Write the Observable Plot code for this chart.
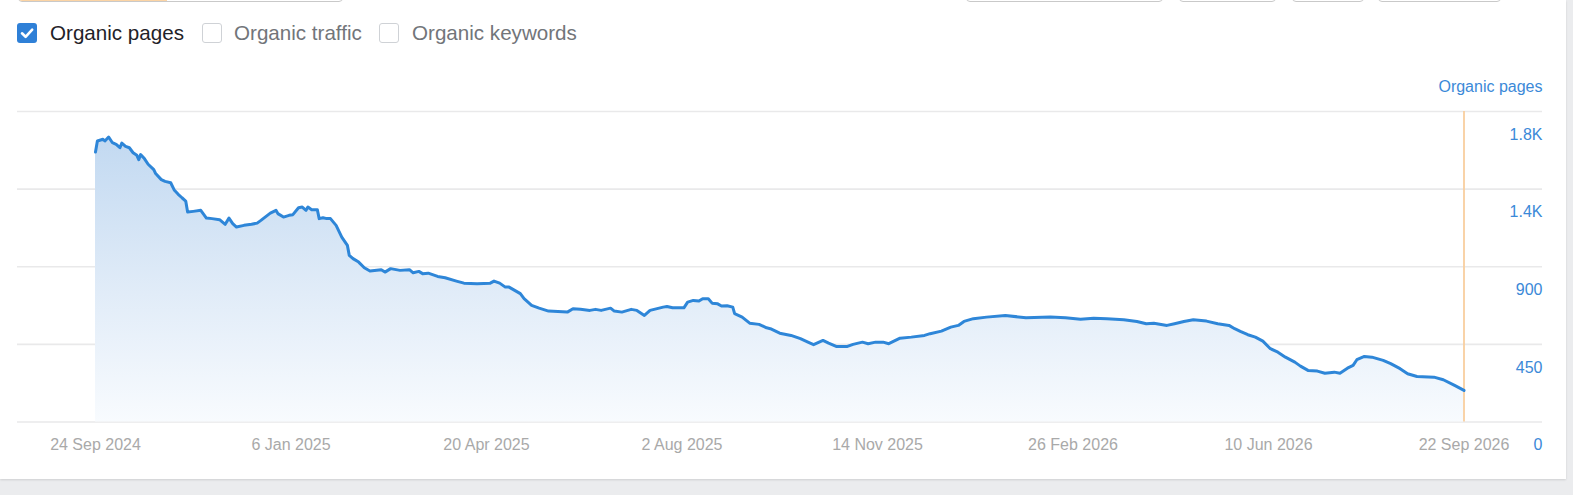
<!DOCTYPE html>
<html>
<head>
<meta charset="utf-8">
<script src="https://cdn.jsdelivr.net/npm/d3@7"></script>
<script src="https://cdn.jsdelivr.net/npm/@observablehq/plot@0.6"></script>
<style>
  html, body { margin: 0; padding: 0; background: #ebecee; width: 1573px; height: 495px; overflow: hidden; font-family: "Liberation Sans", Arial, sans-serif; }
  #card { position: absolute; left: 0; top: 0; width: 1566px; height: 479px; background: #fff; box-shadow: 0 1px 2px rgba(0,0,0,0.12); overflow: hidden; }
  .btn { position: absolute; top: -30px; height: 30px; border: 1px solid #c9c9c9; border-radius: 4px; background: #fff; box-sizing: content-box; }
  .cb { position: absolute; top: 23px; width: 20px; height: 20px; box-sizing: border-box; border-radius: 3px; }
  .cb.on { background: #2f80d7; }
  .cb.off { border: 1px solid #cfd2d6; background: #fff; }
  .lbl { position: absolute; top: 21px; font-size: 20.6px; line-height: 24px; white-space: nowrap; }
  #chart { position: absolute; left: 0; top: 70px; }
</style>
</head>
<body>
<div id="card">
  <div class="btn" style="left:18px;width:323px;overflow:hidden;">
    <div style="position:absolute;left:0;top:0;width:148px;height:100%;background:#fcd4a4;"></div>
  </div>
  <div class="btn" style="left:966px;width:195px;"></div>
  <div class="btn" style="left:1179px;width:95px;"></div>
  <div class="btn" style="left:1292px;width:70px;"></div>
  <div class="btn" style="left:1378px;width:121px;"></div>

  <div class="cb on" style="left:17px;">
    <svg width="20" height="20" viewBox="0 0 20 20"><path d="M5 10.3 L8.6 13.8 L15.2 6.6" fill="none" stroke="#fff" stroke-width="2.6" stroke-linecap="round" stroke-linejoin="round"/></svg>
  </div>
  <div class="lbl" style="left:50px;color:#1f2228;">Organic pages</div>
  <div class="cb off" style="left:202px;"></div>
  <div class="lbl" style="left:234px;color:#72757a;">Organic traffic</div>
  <div class="cb off" style="left:379px;"></div>
  <div class="lbl" style="left:412px;color:#72757a;">Organic keywords</div>

  <div id="chart"></div>
</div>
<script>
// ---- Data ----
const dates = [
  "2024-09-24","2024-09-25","2024-09-28","2024-09-29","2024-10-01","2024-10-03","2024-10-05","2024-10-07","2024-10-08","2024-10-10",
  "2024-10-12","2024-10-14","2024-10-16","2024-10-17","2024-10-18","2024-10-20","2024-10-22","2024-10-25","2024-10-26","2024-10-29",
  "2024-10-31","2024-11-03","2024-11-05","2024-11-07","2024-11-09","2024-11-11","2024-11-12","2024-11-15","2024-11-19","2024-11-22",
  "2024-11-25","2024-11-29","2024-12-02","2024-12-04","2024-12-06","2024-12-08","2024-12-12","2024-12-16","2024-12-19","2024-12-21",
  "2024-12-26","2024-12-29","2024-12-30","2025-01-02","2025-01-05","2025-01-07","2025-01-10","2025-01-12","2025-01-14","2025-01-15",
  "2025-01-17","2025-01-20","2025-01-21","2025-01-23","2025-01-25","2025-01-27","2025-01-30","2025-02-02","2025-02-05","2025-02-06",
  "2025-02-08","2025-02-11","2025-02-14","2025-02-17","2025-02-23","2025-02-25","2025-02-28","2025-03-05","2025-03-10","2025-03-12",
  "2025-03-15","2025-03-17","2025-03-20","2025-03-25","2025-03-29","2025-04-04","2025-04-08","2025-04-15","2025-04-22","2025-04-24",
  "2025-04-27","2025-04-30","2025-05-02","2025-05-05","2025-05-08","2025-05-10","2025-05-14","2025-05-18","2025-05-23","2025-05-28",
  "2025-06-02","2025-06-05","2025-06-09","2025-06-14","2025-06-17","2025-06-20","2025-06-25","2025-06-27","2025-07-01","2025-07-06",
  "2025-07-09","2025-07-13","2025-07-16","2025-07-23","2025-07-25","2025-07-28","2025-08-03","2025-08-05","2025-08-08","2025-08-11",
  "2025-08-13","2025-08-16","2025-08-18","2025-08-21","2025-08-23","2025-08-26","2025-08-29","2025-08-30","2025-09-03","2025-09-07",
  "2025-09-12","2025-09-16","2025-09-18","2025-09-23","2025-09-29","2025-10-04","2025-10-08","2025-10-11","2025-10-16","2025-10-19",
  "2025-10-23","2025-10-29","2025-11-01","2025-11-06","2025-11-09","2025-11-13","2025-11-17","2025-11-20","2025-11-26","2025-12-02",
  "2025-12-09","2025-12-12","2025-12-18","2025-12-23","2025-12-27","2025-12-30","2026-01-04","2026-01-11","2026-01-21","2026-02-01",
  "2026-02-14","2026-02-22","2026-03-02","2026-03-09","2026-03-16","2026-03-25","2026-04-01","2026-04-06","2026-04-10","2026-04-17",
  "2026-04-21","2026-04-26","2026-05-01","2026-05-08","2026-05-14","2026-05-20","2026-05-23","2026-05-26","2026-05-30","2026-06-03",
  "2026-06-07","2026-06-11","2026-06-15","2026-06-19","2026-06-24","2026-06-27","2026-07-01","2026-07-06","2026-07-10","2026-07-15",
  "2026-07-18","2026-07-22","2026-07-25","2026-07-27","2026-07-31","2026-08-04","2026-08-10","2026-08-14","2026-08-19","2026-08-23",
  "2026-08-28","2026-09-06","2026-09-11","2026-09-17","2026-09-22"
];
const organicPages = [
  1565,1629,1639,1629,1652,1619,1610,1590,1617,1598,
  1590,1561,1546,1521,1550,1527,1494,1463,1440,1405,
  1395,1387,1343,1320,1300,1281,1217,1221,1227,1182,
  1179,1173,1146,1182,1150,1130,1140,1146,1153,1169,
  1211,1227,1208,1188,1198,1202,1242,1246,1227,1246,
  1231,1231,1179,1184,1179,1179,1140,1072,1024,966,
  947,927,894,875,883,869,889,879,883,865,
  873,860,863,844,836,817,805,802,805,817,
  805,782,782,763,744,715,676,660,643,641,
  637,657,653,647,653,647,660,643,637,653,
  647,618,647,666,670,662,662,695,705,701,
  715,715,689,685,672,674,666,628,608,573,
  566,546,541,515,502,483,463,448,473,457,
  438,438,450,463,454,463,463,454,486,492,
  502,512,527,550,560,583,599,608,618,604,
  608,604,595,602,599,593,583,570,573,560,
  570,583,593,585,570,560,541,525,506,492,
  469,425,405,376,347,324,299,295,283,289,
  283,312,328,361,380,376,357,338,309,280,
  264,260,245,212,183
];
const xTickDates = ["2024-09-24","2025-01-06","2025-04-20","2025-08-02","2025-11-14","2026-02-26","2026-06-10","2026-09-22"];
const xTickLabels = ["24 Sep 2024","6 Jan 2025","20 Apr 2025","2 Aug 2025","14 Nov 2025","26 Feb 2026","10 Jun 2026","22 Sep 2026"];
const yTicks = [0, 450, 900, 1350, 1800];
const yTickLabels = ["0", "450", "900", "1.4K", "1.8K"];
const seriesName = "Organic pages";
const cursorDate = "2026-09-22";

// ---- Build ----
const parse = d3.utcParse("%Y-%m-%d");
const data = dates.map((d, i) => ({date: parse(d), value: organicPages[i]}));
const xTicks = xTickDates.map(parse);
const xLabelOf = new Map(xTicks.map((d, i) => [+d, xTickLabels[i]]));
const yLabelOf = new Map(yTicks.map((v, i) => [v, yTickLabels[i]]));

const gradientDefs = () => {
  const ns = "http://www.w3.org/2000/svg";
  const defs = document.createElementNS(ns, "defs");
  const g = document.createElementNS(ns, "linearGradient");
  g.setAttribute("id", "areaGrad");
  g.setAttribute("x1", "0"); g.setAttribute("y1", "0");
  g.setAttribute("x2", "0"); g.setAttribute("y2", "1");
  [["0%", "#c2d9f1"], ["55%", "#e1ecf8"], ["100%", "#f8fbfe"]].forEach(([o, c]) => {
    const s = document.createElementNS(ns, "stop");
    s.setAttribute("offset", o); s.setAttribute("stop-color", c);
    g.appendChild(s);
  });
  defs.appendChild(g);
  return defs;
};

const chart = Plot.plot({
  width: 1566,
  height: 390,
  marginTop: 41,
  marginBottom: 38.5,
  marginLeft: 17,
  marginRight: 24,
  style: {fontFamily: "'Liberation Sans', Arial, sans-serif", fontSize: "16px", background: "transparent", overflow: "visible"},
  x: {type: "utc", domain: [parse(dates[0]), parse(cursorDate)], range: [95, 1463.5], axis: null},
  y: {domain: [0, 1800], axis: null},
  marks: [
    gradientDefs,
    Plot.ruleY(yTicks, {stroke: "#e9e9ea", strokeWidth: 1.6}),
    Plot.areaY(data, {x: "date", y: "value", fill: "url(#areaGrad)"}),
    Plot.ruleX([parse(cursorDate)], {stroke: "#f9cf9f", strokeWidth: 1.8}),
    Plot.lineY(data, {x: "date", y: "value", stroke: "#2e86d8", strokeWidth: 3, strokeLinejoin: "round"}),
    Plot.text(yTicks, {y: d => d, text: d => yLabelOf.get(d), frameAnchor: "right", textAnchor: "end", lineAnchor: "middle", dy: 23, fill: "#3b89d8", fontSize: 16}),
    Plot.text(xTicks, {x: d => d, text: d => xLabelOf.get(+d), frameAnchor: "bottom", lineAnchor: "middle", dy: 23, fill: "#a9a9a9", fontSize: 16}),
    Plot.text([seriesName], {text: d => d, frameAnchor: "top-right", textAnchor: "end", lineAnchor: "middle", dy: -25, fill: "#3b89d8", fontSize: 16})
  ]
});
document.getElementById("chart").appendChild(chart);
</script>
</body>
</html>
